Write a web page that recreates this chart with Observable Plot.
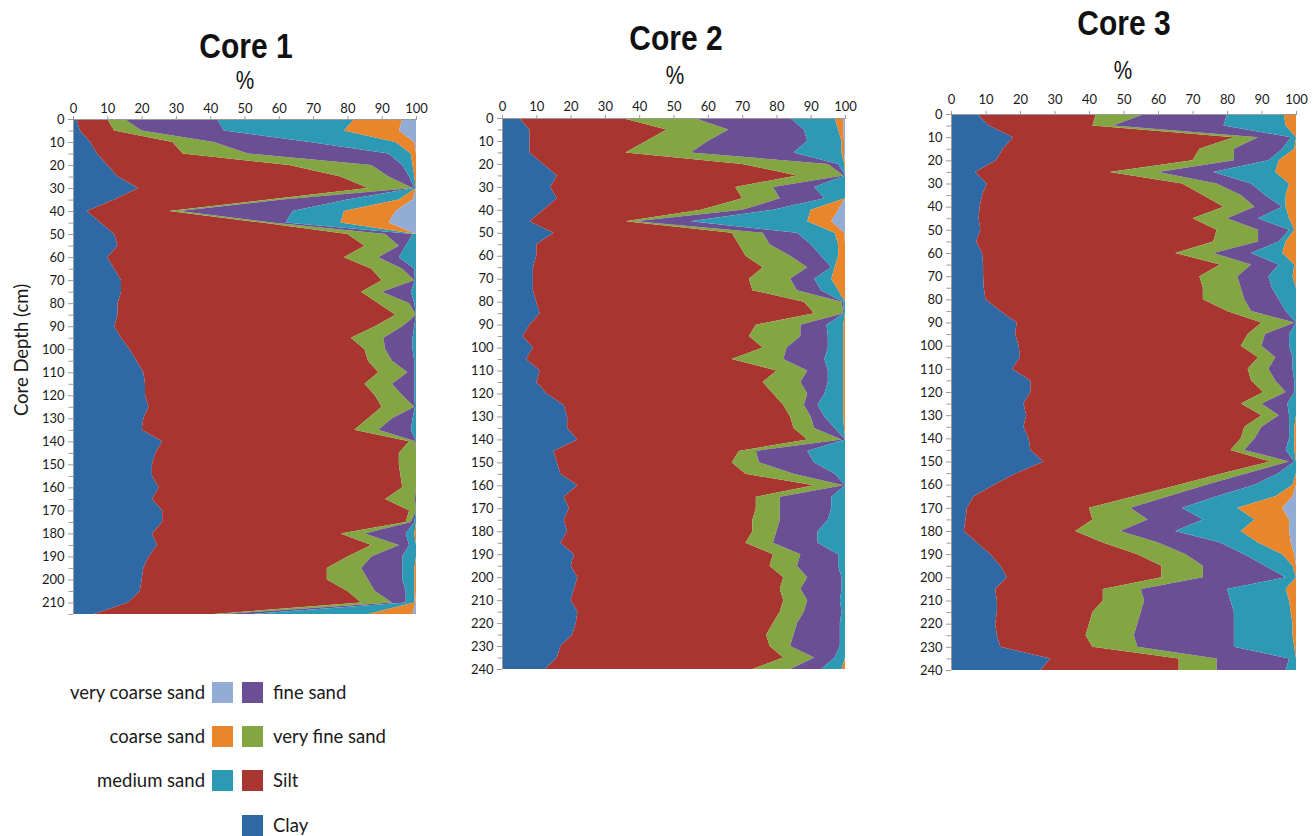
<!DOCTYPE html>
<html>
<head>
<meta charset="utf-8">
<script src="https://cdn.jsdelivr.net/npm/d3@7"></script>
<script src="https://cdn.jsdelivr.net/npm/@observablehq/plot@0.6"></script>
<style>
  html, body { margin: 0; padding: 0; background: #ffffff; }
  #root { position: relative; width: 1316px; height: 836px; overflow: hidden; font-family: Lato, "Open Sans", sans-serif; color: #1a1a1a; }
  .panel { position: absolute; }
  .title { position: absolute; font-family: "Liberation Sans", Arial, sans-serif; font-weight: bold; font-size: 35px; line-height: 0.8; white-space: nowrap; transform: translateX(-50%) scaleX(0.856); color: #111; }
  .pct { position: absolute; font-family: "Liberation Sans", Arial, sans-serif; font-size: 25px; line-height: 0.8; white-space: nowrap; transform: translateX(-50%) scaleX(0.83); color: #111; }
  .ytitle { position: absolute; left: 21px; top: 350px; font-family: Lato, sans-serif; font-size: 18.5px; line-height: 1; white-space: nowrap; transform: translate(-50%, -50%) rotate(-90deg); color: #1a1a1a; }
  .lg-text { position: absolute; font-family: Lato, sans-serif; font-size: 18.5px; line-height: 1; white-space: nowrap; color: #1a1a1a; transform: translateY(-50%); }
  .lg-right { transform: translate(-100%, -50%); }
  .sw { position: absolute; width: 21px; height: 21px; }
  svg g[aria-label^="x-axis"] line, svg g[aria-label^="y-axis"] line,
  svg g[aria-label^="x-axis"] path, svg g[aria-label^="y-axis"] path { stroke: #9a9a9a; }
</style>
</head>
<body>
<div id="root"></div>
<script>
// ---- classes and colours ----
const classes = ["Clay", "Silt", "very fine sand", "fine sand", "medium sand", "coarse sand", "very coarse sand"];
const classColors = ["#2f69a5", "#a93530", "#84a642", "#6b4f95", "#2c9ab4", "#e9852b", "#93acd6"];

const xTicks = [0, 10, 20, 30, 40, 50, 60, 70, 80, 90, 100];

// ---- Core 1 (depth 0-215 cm); values are cumulative upper bounds in % ----
const c1Depth = d3.range(0, 216, 5);
const c1Clay = [1,2,5,7,10,13,19,12,4,8,12,13,10,12,14,14,13,13,12,14,16.5,18.5,20.5,21,21,22,20.5,20,26,24,23,23,25,23,26,26,23,24.5,22,20.5,20,19.5,16,6];
const c1Silt = [10,12,29,32,63,78,86,57,28,55,80,85,79,87,90,84,89,94,88,81,85,86,89,85,88,90,86,82,98,95,95,95.5,96,91,98,97,78,87,80,74,74,80,84,41];
const c1Vfs = [15,20,41,51,87,92,99,61,31,58,91,95,89,96,99.5,90,98,100,96,90.5,91,93,97.5,93,96,99.5,93,89,99.8,100,100,100,100,99.7,100,98.5,85,95,87,84,86,88,93,44];
const c1Fs = [42,44,69,92,96,98,99.5,80,64,62,99,97,95,99.5,99.7,98.5,99.5,100,99.5,99,99,99.5,99.5,99.5,99.5,99.7,99,98.5,100,100,100,100,100,100,100,99.5,97,98,96,96,96,97,97,52];
const c1Ms = [82,79,94,98.5,99,99.5,100,95,79,78,100,100,100,100,100,100,100,100,100,100,100,100,100,100,100,100,100,100,100,100,100,100,100,100,100,100,99.5,100,100,99.5,99.5,99.5,99.5,86];
const c1Cs = [96,95,99.5,100,100,100,100,99,94,92,100,100,100,100,100,100,100,100,100,100,100,100,100,100,100,100,100,100,100,100,100,100,100,100,100,100,100,100,100,100,100,100,99.8,99];

// ---- Core 2 (depth 0-240 cm) ----
const c2Depth = d3.range(0, 241, 5);
const c2Clay = [5,8,8,8,12,16,14,16,12,8,15,10,10,9,9,9,10,11,8,6,9,7,11,10,13,18,19,19,22,15,16,17,22,18,19.5,18,19,17,21,20,22,21,20,22,21.5,20.5,17,16,12.5];
const c2Silt = [35,48,42,36,70,86,68,70,58,36,67,69,71,76,72,73,88,91,74,72,76,67,80,76,79,82,84,85,89,69,67,71,91,74,74,73,73,71,79,78,82,81,82,81,79,77,78,82,73];
const c2Vfs = [56,66,60,55,95,99.5,79,81,70,39,76,78,84,89,84,86,99,99.5,87,87,83,82,89,87,89,88,90,91,99,74,75,85,99.5,81,81,81,80,79,87,86,89,87,89,88,86,85,84,91,84];
const c2Fs = [84,88,89,85,98,100,91,94,79,55,86,90,93,96,91,93,99.5,99.7,94.6,95,95,94,95,95,94,92,94,97,100,89,91,97,100,96,96,95,92,92,98,98,99,99,98.5,99,98.5,98.5,98.5,97,93];
const c2Ms = [97,98,99,99,99.8,100,100,100,90,89,97,98,98,97,96,98,100,100,99.5,99.5,99.5,99.5,99.5,99.5,99.5,99.5,99.5,99.7,100,100,100,100,100,100,100,100,100,100,100,100,100,100,100,100,100,100,100,100,99];
const c2Cs = [99.5,99.5,99.7,99.7,100,100,100,100,98,96,99.8,100,100,100,100,100,100,100,100,100,100,100,100,100,100,100,100,100,100,100,100,100,100,100,100,100,100,100,100,100,100,100,100,100,100,100,100,100,100];

// ---- Core 3 (depth 0-240 cm) ----
const c3Depth = d3.range(0, 241, 5);
const c3Clay = [7.5,11,18,15,13,7,10.4,9,8.3,8,8.5,7.3,9,9.3,9.3,9.5,10,14.3,19,18.6,19.6,20,17.7,23,23,21,21.8,21,22.5,23,26.8,19,12.4,6.6,4.6,4.2,3.7,7.5,11.4,14.3,16.2,12.8,13.3,13.3,12.8,13.3,14.3,28.8,25.9];
const c3Silt = [42,41,82,72,70,46,67,73,79,70,77,76,65,78,72,73,73,80,90,86,84,89,86,87,90.5,84,90,85,84,81,92.5,79,66,53,40,41,36,44,54,61,61,44,44,41,40,39,41,66,66];
const c3Vfs = [56,47,89,82,82,60,77,84,88,80,89,89,76,87,83,84,85,87,99.5,91,90,94,92,94,97,90,95,90,88,85,98,86,74,63,52,57,49,60,68,73,73,55,56,55,54,53,54,77,77];
const c3Fs = [80,79,98.5,96,92,76,87,91,96,89,98,95,87,95,92,93,95,97,100,98,98,99,99,99.5,99.5,97.5,98,98,98,97,99.5,95,88,77,67,73,65,78,85,91,97,80,81,82,82,82,82,98,97];
const c3Ms = [96.5,97,100,99.5,95,94,98,97,97,98,99.5,97,96,99.5,99,100,100,100,100,100,100,100,100,100,100,100,100,99.5,99.5,99.5,100,100,99,94,83,88,84,89,96,99,100,97,98,98.5,99,99,99.5,100,100];
const c3Cs = [100,100,100,100,100,100,100,100,100,100,100,100,100,100,100,100,100,100,100,100,100,100,100,100,100,100,100,100,100,100,100,100,100,99,96,98,98,98.5,99.5,100,100,100,100,100,100,100,100,100,100];

// build band table (lower / upper bound of each class at each depth)
function bandRows(depth, cums) {
  const rows = [];
  classes.forEach((cls, k) => {
    depth.forEach((d, i) => {
      let lo = 0, hi = 0;
      for (let j = 0; j <= k; j++) {
        const v = j === 6 ? 100 : cums[j][i];
        lo = hi;
        hi = Math.max(hi, v);
      }
      rows.push({depth: d, cls, lo, hi});
    });
  });
  return rows;
}

function corePlot(depth, cums, maxDepth, geom) {
  const rows = bandRows(depth, cums);
  const minor = d3.range(5, maxDepth + 1, 10);
  const el = Plot.plot({
    width: geom.width, height: geom.height,
    marginLeft: geom.ml, marginRight: geom.mr, marginTop: geom.mt, marginBottom: geom.mb,
    style: {fontFamily: "Lato, sans-serif", fontSize: "13px", color: "#1a1a1a", background: "transparent", overflow: "visible"},
    x: {domain: [0, 100], axis: "top", ticks: xTicks, tickSize: 4, tickPadding: geom.xpad, label: null},
    y: {domain: [0, maxDepth], reverse: true, ticks: d3.range(0, maxDepth + 1, 10), tickSize: 5, tickPadding: 4, label: null},
    color: {domain: classes, range: classColors},
    marks: [
      Plot.areaX(rows, {y: "depth", x1: "lo", x2: "hi", fill: "cls", z: "cls", curve: "linear"}),
      Plot.ruleY(minor, {x1: () => -1.3, x2: () => 0, stroke: "#9a9a9a"}),
      Plot.ruleY([0], {stroke: "#9a9a9a"}),
      Plot.ruleX([0], {stroke: "#9a9a9a"})
    ]
  });
  el.classList.add("panel");
  el.style.left = geom.left + "px";
  el.style.top = geom.top + "px";
  return el;
}

const root = document.getElementById("root");
root.appendChild(corePlot(c1Depth, [c1Clay, c1Silt, c1Vfs, c1Fs, c1Ms, c1Cs], 215,
  {left: 30, top: 80, width: 396, height: 554, ml: 43, mr: 10, mt: 39, mb: 20, xpad: 3}));
root.appendChild(corePlot(c2Depth, [c2Clay, c2Silt, c2Vfs, c2Fs, c2Ms, c2Cs], 240,
  {left: 462, top: 80, width: 393, height: 599, ml: 40, mr: 10, mt: 38, mb: 10, xpad: 4}));
root.appendChild(corePlot(c3Depth, [c3Clay, c3Silt, c3Vfs, c3Fs, c3Ms, c3Cs], 240,
  {left: 911, top: 76, width: 395, height: 604, ml: 40, mr: 10, mt: 38, mb: 10, xpad: 7}));

// titles (line-height 0.8: baseline sits 0.7465em below the box top)
const titles = [
  {t: "Core 1", x: 246, y: 32, py: 70, px: 245},
  {t: "Core 2", x: 676, y: 24, py: 65, px: 675},
  {t: "Core 3", x: 1124, y: 9, py: 60, px: 1123}
];
titles.forEach(d => {
  const a = document.createElement("div");
  a.className = "title"; a.textContent = d.t;
  a.style.left = d.x + "px"; a.style.top = d.y + "px";
  root.appendChild(a);
  const b = document.createElement("div");
  b.className = "pct"; b.textContent = "%";
  b.style.left = d.px + "px"; b.style.top = d.py + "px";
  root.appendChild(b);
});

const yt = document.createElement("div");
yt.className = "ytitle"; yt.textContent = "Core Depth (cm)";
root.appendChild(yt);

// legend
const legendLeft = [
  {cls: "very coarse sand", y: 692},
  {cls: "coarse sand", y: 736},
  {cls: "medium sand", y: 780}
];
const legendRight = [
  {cls: "fine sand", y: 692},
  {cls: "very fine sand", y: 736},
  {cls: "Silt", y: 780},
  {cls: "Clay", y: 825}
];
const colorOf = c => classColors[classes.indexOf(c)];
legendLeft.forEach(d => {
  const s = document.createElement("div");
  s.className = "sw"; s.style.left = "212px"; s.style.top = (d.y - 10) + "px"; s.style.background = colorOf(d.cls);
  root.appendChild(s);
  const t = document.createElement("div");
  t.className = "lg-text lg-right"; t.textContent = d.cls;
  t.style.left = "205px"; t.style.top = d.y + "px";
  root.appendChild(t);
});
legendRight.forEach(d => {
  const s = document.createElement("div");
  s.className = "sw"; s.style.left = "242px"; s.style.top = (d.y - 10) + "px"; s.style.background = colorOf(d.cls);
  root.appendChild(s);
  const t = document.createElement("div");
  t.className = "lg-text"; t.textContent = d.cls;
  t.style.left = "273px"; t.style.top = d.y + "px";
  root.appendChild(t);
});
</script>
</body>
</html>
